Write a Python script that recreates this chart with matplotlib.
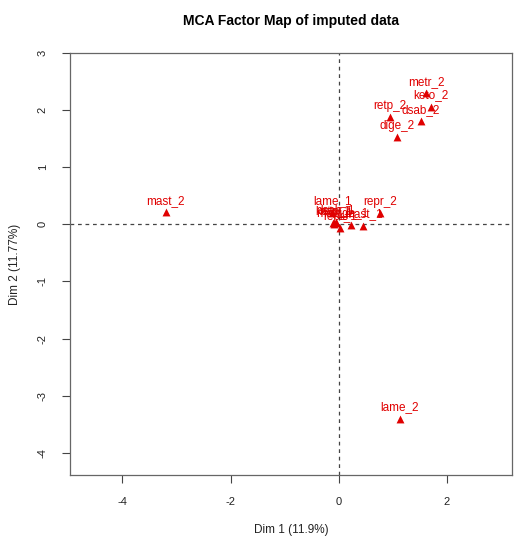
import matplotlib.pyplot as plt

plt.rcParams['font.family'] = ['Liberation Sans', 'DejaVu Sans']
plt.rcParams['axes.unicode_minus'] = False

# category coordinates on the first two MCA dimensions
labels = ['mast_2', 'lame_2', 'metr_2', 'keto_2', 'dsab_2', 'retp_2', 'dige_2',
          'lame_1', 'repr_2', 'mast_1', 'metr_1', 'keto_1', 'dsab_1',
          'retp_1', 'dige_1', 'repr_1']
dim1 = [-3.2, 1.13, 1.61, 1.70, 1.52, 0.94, 1.07,
        -0.12, 0.77, 0.45, -0.08, -0.10, -0.05, -0.06, 0.22, 0.02]
dim2 = [0.21, -3.40, 2.29, 2.06, 1.80, 1.87, 1.52,
        0.20, 0.19, -0.03, 0.00, 0.03, 0.04, 0.02, -0.02, -0.07]

red = '#e00000'
grey = '#444444'

fig = plt.figure(figsize=(5.14, 5.4), dpi=100)
ax = fig.add_axes([0.136, 0.12, 0.86, 0.782])

ax.axhline(0, color=grey, ls=(0, (3, 3)), lw=0.9, zorder=1)
ax.axvline(0, color=grey, ls=(0, (3, 3)), lw=0.9, zorder=1)

ax.scatter(dim1, dim2, marker='^', s=32, color=red, zorder=3, linewidths=0)
for lab, x, y in zip(labels, dim1, dim2):
    ax.annotate(lab, (x, y), xytext=(0, 4), textcoords='offset points',
                ha='center', va='bottom', color=red, fontsize=8.5, zorder=4)

ax.set_xlim(-4.97, 3.2)
ax.set_ylim(-4.39, 3.0)
ax.set_xticks([-4, -2, 0, 2])
ax.set_yticks([-4, -3, -2, -1, 0, 1, 2, 3])
ax.tick_params(direction='out', length=6, width=0.8, color=grey,
               labelsize=8, labelcolor='#222222', pad=10)
for t in ax.get_yticklabels():
    t.set_rotation(90)
    t.set_va('center')
for sp in ax.spines.values():
    sp.set_color('#666666')
    sp.set_linewidth(0.9)

ax.set_xlabel('Dim 1 (11.9%)', fontsize=8.5, color='#222222', labelpad=12)
ax.set_ylabel('Dim 2 (11.77%)', fontsize=8.5, color='#222222', labelpad=12)
ax.set_title('MCA Factor Map of imputed data', fontsize=10, fontweight='bold',
             pad=20)

plt.savefig('out.png', dpi=100)
